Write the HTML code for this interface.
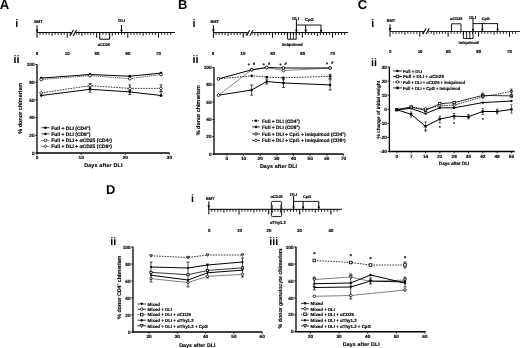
<!DOCTYPE html>
<html><head><meta charset="utf-8"><style>
html,body{margin:0;padding:0;background:#fff;}
svg{display:block;font-family:"Liberation Sans",sans-serif;text-rendering:geometricPrecision;filter:grayscale(1) blur(0.3px);}
</style></head><body>
<svg width="520" height="348" viewBox="0 0 520 348">
<rect width="520" height="348" fill="#fff"/>
<text x='-0.20' y='8.75' font-size='13.1' font-weight='bold' text-anchor='start' fill='#000' stroke='#000' stroke-width='0'>A</text>
<text x='178.00' y='8.80' font-size='13.0' font-weight='bold' text-anchor='start' fill='#000' stroke='#000' stroke-width='0'>B</text>
<text x='357.80' y='8.90' font-size='13.0' font-weight='bold' text-anchor='start' fill='#000' stroke='#000' stroke-width='0'>C</text>
<text x='105.90' y='194.20' font-size='12.9' font-weight='bold' text-anchor='start' fill='#000' stroke='#000' stroke-width='0'>D</text>
<text x='15.20' y='26.90' font-size='10.8' font-weight='bold' text-anchor='start' fill='#000' stroke='#000' stroke-width='0'>i</text>
<text x='13.60' y='62.60' font-size='10.8' font-weight='bold' text-anchor='start' fill='#000' stroke='#000' stroke-width='0'>ii</text>
<text x='192.60' y='27.10' font-size='10.8' font-weight='bold' text-anchor='start' fill='#000' stroke='#000' stroke-width='0'>i</text>
<text x='192.40' y='62.70' font-size='10.8' font-weight='bold' text-anchor='start' fill='#000' stroke='#000' stroke-width='0'>ii</text>
<text x='371.20' y='26.90' font-size='10.8' font-weight='bold' text-anchor='start' fill='#000' stroke='#000' stroke-width='0'>i</text>
<text x='370.90' y='66.10' font-size='10.8' font-weight='bold' text-anchor='start' fill='#000' stroke='#000' stroke-width='0'>ii</text>
<text x='190.90' y='201.70' font-size='10.8' font-weight='bold' text-anchor='start' fill='#000' stroke='#000' stroke-width='0'>i</text>
<text x='110.30' y='244.90' font-size='10.8' font-weight='bold' text-anchor='start' fill='#000' stroke='#000' stroke-width='0'>ii</text>
<text x='269.30' y='244.70' font-size='10.8' font-weight='bold' text-anchor='start' fill='#000' stroke='#000' stroke-width='0'>iii</text>
<line x1='37.00' y1='32.50' x2='175.00' y2='32.50' stroke='#000' stroke-width='1.0'/>
<line x1='40.02' y1='32.50' x2='40.02' y2='34.90' stroke='#000' stroke-width='0.85'/>
<line x1='43.04' y1='32.50' x2='43.04' y2='34.90' stroke='#000' stroke-width='0.85'/>
<line x1='46.06' y1='32.50' x2='46.06' y2='34.90' stroke='#000' stroke-width='0.85'/>
<line x1='49.08' y1='32.50' x2='49.08' y2='34.90' stroke='#000' stroke-width='0.85'/>
<line x1='52.10' y1='32.50' x2='52.10' y2='35.90' stroke='#000' stroke-width='0.9'/>
<line x1='55.12' y1='32.50' x2='55.12' y2='34.90' stroke='#000' stroke-width='0.85'/>
<line x1='58.14' y1='32.50' x2='58.14' y2='34.90' stroke='#000' stroke-width='0.85'/>
<line x1='61.16' y1='32.50' x2='61.16' y2='34.90' stroke='#000' stroke-width='0.85'/>
<line x1='64.18' y1='32.50' x2='64.18' y2='34.90' stroke='#000' stroke-width='0.85'/>
<line x1='67.20' y1='32.50' x2='67.20' y2='37.70' stroke='#000' stroke-width='1.0'/>
<line x1='70.15' y1='32.50' x2='70.15' y2='34.90' stroke='#000' stroke-width='0.85'/>
<line x1='73.10' y1='32.50' x2='73.10' y2='34.90' stroke='#000' stroke-width='0.85'/>
<line x1='76.05' y1='32.50' x2='76.05' y2='34.90' stroke='#000' stroke-width='0.85'/>
<line x1='79.00' y1='32.50' x2='79.00' y2='34.90' stroke='#000' stroke-width='0.85'/>
<line x1='81.95' y1='32.50' x2='81.95' y2='35.90' stroke='#000' stroke-width='0.9'/>
<line x1='84.90' y1='32.50' x2='84.90' y2='34.90' stroke='#000' stroke-width='0.85'/>
<line x1='87.85' y1='32.50' x2='87.85' y2='34.90' stroke='#000' stroke-width='0.85'/>
<line x1='90.80' y1='32.50' x2='90.80' y2='34.90' stroke='#000' stroke-width='0.85'/>
<line x1='93.75' y1='32.50' x2='93.75' y2='34.90' stroke='#000' stroke-width='0.85'/>
<line x1='96.70' y1='32.50' x2='96.70' y2='37.70' stroke='#000' stroke-width='1.0'/>
<line x1='99.81' y1='32.50' x2='99.81' y2='34.90' stroke='#000' stroke-width='0.85'/>
<line x1='102.92' y1='32.50' x2='102.92' y2='34.90' stroke='#000' stroke-width='0.85'/>
<line x1='106.03' y1='32.50' x2='106.03' y2='34.90' stroke='#000' stroke-width='0.85'/>
<line x1='109.14' y1='32.50' x2='109.14' y2='34.90' stroke='#000' stroke-width='0.85'/>
<line x1='112.25' y1='32.50' x2='112.25' y2='35.90' stroke='#000' stroke-width='0.9'/>
<line x1='115.36' y1='32.50' x2='115.36' y2='34.90' stroke='#000' stroke-width='0.85'/>
<line x1='118.47' y1='32.50' x2='118.47' y2='34.90' stroke='#000' stroke-width='0.85'/>
<line x1='121.58' y1='32.50' x2='121.58' y2='34.90' stroke='#000' stroke-width='0.85'/>
<line x1='124.69' y1='32.50' x2='124.69' y2='34.90' stroke='#000' stroke-width='0.85'/>
<line x1='127.80' y1='32.50' x2='127.80' y2='37.70' stroke='#000' stroke-width='1.0'/>
<line x1='130.87' y1='32.50' x2='130.87' y2='34.90' stroke='#000' stroke-width='0.85'/>
<line x1='133.94' y1='32.50' x2='133.94' y2='34.90' stroke='#000' stroke-width='0.85'/>
<line x1='137.01' y1='32.50' x2='137.01' y2='34.90' stroke='#000' stroke-width='0.85'/>
<line x1='140.08' y1='32.50' x2='140.08' y2='34.90' stroke='#000' stroke-width='0.85'/>
<line x1='143.15' y1='32.50' x2='143.15' y2='35.90' stroke='#000' stroke-width='0.9'/>
<line x1='146.22' y1='32.50' x2='146.22' y2='34.90' stroke='#000' stroke-width='0.85'/>
<line x1='149.29' y1='32.50' x2='149.29' y2='34.90' stroke='#000' stroke-width='0.85'/>
<line x1='152.36' y1='32.50' x2='152.36' y2='34.90' stroke='#000' stroke-width='0.85'/>
<line x1='155.43' y1='32.50' x2='155.43' y2='34.90' stroke='#000' stroke-width='0.85'/>
<line x1='158.50' y1='32.50' x2='158.50' y2='37.70' stroke='#000' stroke-width='1.0'/>
<line x1='161.57' y1='32.50' x2='161.57' y2='34.90' stroke='#000' stroke-width='0.85'/>
<line x1='164.64' y1='32.50' x2='164.64' y2='34.90' stroke='#000' stroke-width='0.85'/>
<line x1='167.71' y1='32.50' x2='167.71' y2='34.90' stroke='#000' stroke-width='0.85'/>
<line x1='170.78' y1='32.50' x2='170.78' y2='34.90' stroke='#000' stroke-width='0.85'/>
<text x='37.00' y='55.00' font-size='4.4' font-weight='bold' text-anchor='middle' fill='#000' stroke='#000' stroke-width='0.15'>0</text>
<text x='67.20' y='55.00' font-size='4.4' font-weight='bold' text-anchor='middle' fill='#000' stroke='#000' stroke-width='0.15'>10</text>
<text x='96.90' y='55.00' font-size='4.4' font-weight='bold' text-anchor='middle' fill='#000' stroke='#000' stroke-width='0.15'>50</text>
<text x='128.00' y='55.00' font-size='4.4' font-weight='bold' text-anchor='middle' fill='#000' stroke='#000' stroke-width='0.15'>60</text>
<text x='158.40' y='55.00' font-size='4.4' font-weight='bold' text-anchor='middle' fill='#000' stroke='#000' stroke-width='0.15'>70</text>
<rect x='71.3' y='31.7' width='4.4' height='4' fill='#fff'/>
<line x1='70.20' y1='35.70' x2='73.30' y2='30.10' stroke='#000' stroke-width='1.1'/>
<line x1='73.40' y1='35.70' x2='76.50' y2='30.10' stroke='#000' stroke-width='1.1'/>
<line x1='37.00' y1='25.30' x2='37.00' y2='37.80' stroke='#000' stroke-width='1.0'/>
<path d='M35.7,29.4 L38.3,29.4 L37,32.5 Z' fill='#000'/>
<text x='38.40' y='23.00' font-size='3.9' font-weight='bold' text-anchor='middle' fill='#000' stroke='#000' stroke-width='0.15'>BMT</text>
<line x1='121.50' y1='25.00' x2='121.50' y2='32.00' stroke='#000' stroke-width='1.0'/>
<path d='M120.2,29.7 L122.8,29.7 L121.5,32.5 Z' fill='#000'/>
<text x='121.80' y='22.40' font-size='4.3' font-weight='bold' text-anchor='middle' fill='#000' stroke='#000' stroke-width='0.15'>DLI</text>
<path d='M99.7,32.5 L99.7,39.2 L109.6,39.2 L109.6,32.5' stroke='#000' stroke-width='1.0' fill='none'/>
<text x='104.00' y='45.60' font-size='3.9' font-weight='bold' text-anchor='middle' fill='#000' stroke='#000' stroke-width='0.15'>&#945;CD25</text>
<line x1='213.00' y1='32.60' x2='348.20' y2='32.60' stroke='#000' stroke-width='1.0'/>
<line x1='216.02' y1='32.60' x2='216.02' y2='35.00' stroke='#000' stroke-width='0.85'/>
<line x1='219.04' y1='32.60' x2='219.04' y2='35.00' stroke='#000' stroke-width='0.85'/>
<line x1='222.06' y1='32.60' x2='222.06' y2='35.00' stroke='#000' stroke-width='0.85'/>
<line x1='225.08' y1='32.60' x2='225.08' y2='35.00' stroke='#000' stroke-width='0.85'/>
<line x1='228.10' y1='32.60' x2='228.10' y2='36.00' stroke='#000' stroke-width='0.9'/>
<line x1='231.12' y1='32.60' x2='231.12' y2='35.00' stroke='#000' stroke-width='0.85'/>
<line x1='234.14' y1='32.60' x2='234.14' y2='35.00' stroke='#000' stroke-width='0.85'/>
<line x1='237.16' y1='32.60' x2='237.16' y2='35.00' stroke='#000' stroke-width='0.85'/>
<line x1='240.18' y1='32.60' x2='240.18' y2='35.00' stroke='#000' stroke-width='0.85'/>
<line x1='243.20' y1='32.60' x2='243.20' y2='37.80' stroke='#000' stroke-width='1.0'/>
<line x1='246.13' y1='32.60' x2='246.13' y2='35.00' stroke='#000' stroke-width='0.85'/>
<line x1='249.06' y1='32.60' x2='249.06' y2='35.00' stroke='#000' stroke-width='0.85'/>
<line x1='251.99' y1='32.60' x2='251.99' y2='35.00' stroke='#000' stroke-width='0.85'/>
<line x1='254.92' y1='32.60' x2='254.92' y2='35.00' stroke='#000' stroke-width='0.85'/>
<line x1='257.85' y1='32.60' x2='257.85' y2='36.00' stroke='#000' stroke-width='0.9'/>
<line x1='260.78' y1='32.60' x2='260.78' y2='35.00' stroke='#000' stroke-width='0.85'/>
<line x1='263.71' y1='32.60' x2='263.71' y2='35.00' stroke='#000' stroke-width='0.85'/>
<line x1='266.64' y1='32.60' x2='266.64' y2='35.00' stroke='#000' stroke-width='0.85'/>
<line x1='269.57' y1='32.60' x2='269.57' y2='35.00' stroke='#000' stroke-width='0.85'/>
<line x1='272.50' y1='32.60' x2='272.50' y2='37.80' stroke='#000' stroke-width='1.0'/>
<line x1='275.48' y1='32.60' x2='275.48' y2='35.00' stroke='#000' stroke-width='0.85'/>
<line x1='278.46' y1='32.60' x2='278.46' y2='35.00' stroke='#000' stroke-width='0.85'/>
<line x1='281.44' y1='32.60' x2='281.44' y2='35.00' stroke='#000' stroke-width='0.85'/>
<line x1='284.42' y1='32.60' x2='284.42' y2='35.00' stroke='#000' stroke-width='0.85'/>
<line x1='287.40' y1='32.60' x2='287.40' y2='36.00' stroke='#000' stroke-width='0.9'/>
<line x1='290.38' y1='32.60' x2='290.38' y2='35.00' stroke='#000' stroke-width='0.85'/>
<line x1='293.36' y1='32.60' x2='293.36' y2='35.00' stroke='#000' stroke-width='0.85'/>
<line x1='296.34' y1='32.60' x2='296.34' y2='35.00' stroke='#000' stroke-width='0.85'/>
<line x1='299.32' y1='32.60' x2='299.32' y2='35.00' stroke='#000' stroke-width='0.85'/>
<line x1='302.30' y1='32.60' x2='302.30' y2='37.80' stroke='#000' stroke-width='1.0'/>
<line x1='305.32' y1='32.60' x2='305.32' y2='35.00' stroke='#000' stroke-width='0.85'/>
<line x1='308.34' y1='32.60' x2='308.34' y2='35.00' stroke='#000' stroke-width='0.85'/>
<line x1='311.36' y1='32.60' x2='311.36' y2='35.00' stroke='#000' stroke-width='0.85'/>
<line x1='314.38' y1='32.60' x2='314.38' y2='35.00' stroke='#000' stroke-width='0.85'/>
<line x1='317.40' y1='32.60' x2='317.40' y2='36.00' stroke='#000' stroke-width='0.9'/>
<line x1='320.42' y1='32.60' x2='320.42' y2='35.00' stroke='#000' stroke-width='0.85'/>
<line x1='323.44' y1='32.60' x2='323.44' y2='35.00' stroke='#000' stroke-width='0.85'/>
<line x1='326.46' y1='32.60' x2='326.46' y2='35.00' stroke='#000' stroke-width='0.85'/>
<line x1='329.48' y1='32.60' x2='329.48' y2='35.00' stroke='#000' stroke-width='0.85'/>
<line x1='332.50' y1='32.60' x2='332.50' y2='37.80' stroke='#000' stroke-width='1.0'/>
<line x1='335.52' y1='32.60' x2='335.52' y2='35.00' stroke='#000' stroke-width='0.85'/>
<line x1='338.54' y1='32.60' x2='338.54' y2='35.00' stroke='#000' stroke-width='0.85'/>
<line x1='341.56' y1='32.60' x2='341.56' y2='35.00' stroke='#000' stroke-width='0.85'/>
<line x1='344.58' y1='32.60' x2='344.58' y2='35.00' stroke='#000' stroke-width='0.85'/>
<text x='213.00' y='55.00' font-size='4.4' font-weight='bold' text-anchor='middle' fill='#000' stroke='#000' stroke-width='0.15'>0</text>
<text x='243.00' y='55.00' font-size='4.4' font-weight='bold' text-anchor='middle' fill='#000' stroke='#000' stroke-width='0.15'>10</text>
<text x='272.60' y='55.00' font-size='4.4' font-weight='bold' text-anchor='middle' fill='#000' stroke='#000' stroke-width='0.15'>50</text>
<text x='302.80' y='55.00' font-size='4.4' font-weight='bold' text-anchor='middle' fill='#000' stroke='#000' stroke-width='0.15'>60</text>
<text x='332.40' y='55.00' font-size='4.4' font-weight='bold' text-anchor='middle' fill='#000' stroke='#000' stroke-width='0.15'>70</text>
<rect x='247.70000000000002' y='31.8' width='4.4' height='4' fill='#fff'/>
<line x1='246.60' y1='35.80' x2='249.70' y2='30.20' stroke='#000' stroke-width='1.1'/>
<line x1='249.80' y1='35.80' x2='252.90' y2='30.20' stroke='#000' stroke-width='1.1'/>
<line x1='213.40' y1='25.30' x2='213.40' y2='37.80' stroke='#000' stroke-width='1.0'/>
<path d='M212.1,29.2 L214.7,29.2 L213.4,32.3 Z' fill='#000'/>
<text x='214.60' y='23.00' font-size='3.9' font-weight='bold' text-anchor='middle' fill='#000' stroke='#000' stroke-width='0.15'>BMT</text>
<path d='M287.6,32.6 L287.6,39.2 L296.2,39.2 L296.2,32.6' stroke='#000' stroke-width='0.9' fill='none'/>
<line x1='290.50' y1='32.60' x2='290.50' y2='39.20' stroke='#000' stroke-width='0.8'/>
<line x1='293.40' y1='32.60' x2='293.40' y2='39.20' stroke='#000' stroke-width='0.8'/>
<text x='292.30' y='46.20' font-size='4.1' font-weight='bold' text-anchor='middle' fill='#000' stroke='#000' stroke-width='0.15'>imiquimod</text>
<line x1='296.40' y1='20.00' x2='296.40' y2='32.10' stroke='#000' stroke-width='1.0'/>
<path d='M295.09999999999997,29.8 L297.7,29.8 L296.4,32.6 Z' fill='#000'/>
<text x='295.70' y='19.60' font-size='4.3' font-weight='bold' text-anchor='middle' fill='#000' stroke='#000' stroke-width='0.15'>DLI</text>
<line x1='296.40' y1='25.00' x2='321.20' y2='25.00' stroke='#000' stroke-width='0.9'/>
<line x1='305.70' y1='25.00' x2='305.70' y2='32.10' stroke='#000' stroke-width='1.0'/>
<path d='M304.4,29.8 L307.0,29.8 L305.7,32.6 Z' fill='#000'/>
<line x1='321.00' y1='25.00' x2='321.00' y2='32.10' stroke='#000' stroke-width='1.0'/>
<path d='M319.7,29.8 L322.3,29.8 L321.0,32.6 Z' fill='#000'/>
<text x='309.30' y='20.70' font-size='4.2' font-weight='bold' text-anchor='middle' fill='#000' stroke='#000' stroke-width='0.15'>CpG</text>
<line x1='390.00' y1='31.50' x2='521.00' y2='31.50' stroke='#000' stroke-width='0.85'/>
<line x1='392.98' y1='31.50' x2='392.98' y2='33.90' stroke='#000' stroke-width='0.85'/>
<line x1='395.96' y1='31.50' x2='395.96' y2='33.90' stroke='#000' stroke-width='0.85'/>
<line x1='398.94' y1='31.50' x2='398.94' y2='33.90' stroke='#000' stroke-width='0.85'/>
<line x1='401.92' y1='31.50' x2='401.92' y2='33.90' stroke='#000' stroke-width='0.85'/>
<line x1='404.90' y1='31.50' x2='404.90' y2='34.90' stroke='#000' stroke-width='0.9'/>
<line x1='407.88' y1='31.50' x2='407.88' y2='33.90' stroke='#000' stroke-width='0.85'/>
<line x1='410.86' y1='31.50' x2='410.86' y2='33.90' stroke='#000' stroke-width='0.85'/>
<line x1='413.84' y1='31.50' x2='413.84' y2='33.90' stroke='#000' stroke-width='0.85'/>
<line x1='416.82' y1='31.50' x2='416.82' y2='33.90' stroke='#000' stroke-width='0.85'/>
<line x1='419.80' y1='31.50' x2='419.80' y2='36.70' stroke='#000' stroke-width='1.0'/>
<line x1='422.63' y1='31.50' x2='422.63' y2='33.90' stroke='#000' stroke-width='0.85'/>
<line x1='425.46' y1='31.50' x2='425.46' y2='33.90' stroke='#000' stroke-width='0.85'/>
<line x1='428.29' y1='31.50' x2='428.29' y2='33.90' stroke='#000' stroke-width='0.85'/>
<line x1='431.12' y1='31.50' x2='431.12' y2='33.90' stroke='#000' stroke-width='0.85'/>
<line x1='433.95' y1='31.50' x2='433.95' y2='34.90' stroke='#000' stroke-width='0.9'/>
<line x1='436.78' y1='31.50' x2='436.78' y2='33.90' stroke='#000' stroke-width='0.85'/>
<line x1='439.61' y1='31.50' x2='439.61' y2='33.90' stroke='#000' stroke-width='0.85'/>
<line x1='442.44' y1='31.50' x2='442.44' y2='33.90' stroke='#000' stroke-width='0.85'/>
<line x1='445.27' y1='31.50' x2='445.27' y2='33.90' stroke='#000' stroke-width='0.85'/>
<line x1='448.10' y1='31.50' x2='448.10' y2='36.70' stroke='#000' stroke-width='1.0'/>
<line x1='451.15' y1='31.50' x2='451.15' y2='33.90' stroke='#000' stroke-width='0.85'/>
<line x1='454.20' y1='31.50' x2='454.20' y2='33.90' stroke='#000' stroke-width='0.85'/>
<line x1='457.25' y1='31.50' x2='457.25' y2='33.90' stroke='#000' stroke-width='0.85'/>
<line x1='460.30' y1='31.50' x2='460.30' y2='33.90' stroke='#000' stroke-width='0.85'/>
<line x1='463.35' y1='31.50' x2='463.35' y2='34.90' stroke='#000' stroke-width='0.9'/>
<line x1='466.40' y1='31.50' x2='466.40' y2='33.90' stroke='#000' stroke-width='0.85'/>
<line x1='469.45' y1='31.50' x2='469.45' y2='33.90' stroke='#000' stroke-width='0.85'/>
<line x1='472.50' y1='31.50' x2='472.50' y2='33.90' stroke='#000' stroke-width='0.85'/>
<line x1='475.55' y1='31.50' x2='475.55' y2='33.90' stroke='#000' stroke-width='0.85'/>
<line x1='478.60' y1='31.50' x2='478.60' y2='36.70' stroke='#000' stroke-width='1.0'/>
<line x1='481.69' y1='31.50' x2='481.69' y2='33.90' stroke='#000' stroke-width='0.85'/>
<line x1='484.78' y1='31.50' x2='484.78' y2='33.90' stroke='#000' stroke-width='0.85'/>
<line x1='487.87' y1='31.50' x2='487.87' y2='33.90' stroke='#000' stroke-width='0.85'/>
<line x1='490.96' y1='31.50' x2='490.96' y2='33.90' stroke='#000' stroke-width='0.85'/>
<line x1='494.05' y1='31.50' x2='494.05' y2='34.90' stroke='#000' stroke-width='0.9'/>
<line x1='497.14' y1='31.50' x2='497.14' y2='33.90' stroke='#000' stroke-width='0.85'/>
<line x1='500.23' y1='31.50' x2='500.23' y2='33.90' stroke='#000' stroke-width='0.85'/>
<line x1='503.32' y1='31.50' x2='503.32' y2='33.90' stroke='#000' stroke-width='0.85'/>
<line x1='506.41' y1='31.50' x2='506.41' y2='33.90' stroke='#000' stroke-width='0.85'/>
<line x1='509.50' y1='31.50' x2='509.50' y2='36.70' stroke='#000' stroke-width='1.0'/>
<line x1='512.59' y1='31.50' x2='512.59' y2='33.90' stroke='#000' stroke-width='0.85'/>
<line x1='515.68' y1='31.50' x2='515.68' y2='33.90' stroke='#000' stroke-width='0.85'/>
<text x='390.30' y='52.50' font-size='4.4' font-weight='bold' text-anchor='middle' fill='#000' stroke='#000' stroke-width='0.15'>0</text>
<text x='420.10' y='52.50' font-size='4.4' font-weight='bold' text-anchor='middle' fill='#000' stroke='#000' stroke-width='0.15'>10</text>
<text x='448.30' y='52.50' font-size='4.4' font-weight='bold' text-anchor='middle' fill='#000' stroke='#000' stroke-width='0.15'>50</text>
<text x='478.70' y='52.50' font-size='4.4' font-weight='bold' text-anchor='middle' fill='#000' stroke='#000' stroke-width='0.15'>60</text>
<text x='509.50' y='52.50' font-size='4.4' font-weight='bold' text-anchor='middle' fill='#000' stroke='#000' stroke-width='0.15'>70</text>
<rect x='424.0' y='30.7' width='4.4' height='4' fill='#fff'/>
<line x1='422.90' y1='34.00' x2='426.00' y2='28.40' stroke='#000' stroke-width='1.1'/>
<line x1='426.10' y1='34.00' x2='429.20' y2='28.40' stroke='#000' stroke-width='1.1'/>
<line x1='390.00' y1='24.30' x2='390.00' y2='36.60' stroke='#000' stroke-width='1.0'/>
<path d='M388.7,28.1 L391.3,28.1 L390,31.2 Z' fill='#000'/>
<text x='391.00' y='22.20' font-size='3.9' font-weight='bold' text-anchor='middle' fill='#000' stroke='#000' stroke-width='0.15'>BMT</text>
<path d='M451.5,31.5 L451.5,23.8 L461,23.8 L461,31.5' stroke='#000' stroke-width='0.9' fill='none'/>
<text x='456.20' y='20.20' font-size='3.9' font-weight='bold' text-anchor='middle' fill='#000' stroke='#000' stroke-width='0.15'>&#945;CD25</text>
<path d='M463.4,31.5 L463.4,38.5 L473,38.5 L473,31.5' stroke='#000' stroke-width='0.9' fill='none'/>
<line x1='466.60' y1='31.50' x2='466.60' y2='38.50' stroke='#000' stroke-width='0.8'/>
<line x1='469.80' y1='31.50' x2='469.80' y2='38.50' stroke='#000' stroke-width='0.8'/>
<text x='468.70' y='44.30' font-size='4.0' font-weight='bold' text-anchor='middle' fill='#000' stroke='#000' stroke-width='0.15'>Imiquimod</text>
<line x1='473.00' y1='18.50' x2='473.00' y2='31.00' stroke='#000' stroke-width='1.0'/>
<path d='M471.7,28.7 L474.3,28.7 L473,31.5 Z' fill='#000'/>
<text x='472.70' y='18.60' font-size='4.3' font-weight='bold' text-anchor='middle' fill='#000' stroke='#000' stroke-width='0.15'>DLI</text>
<line x1='473.00' y1='23.60' x2='497.80' y2='23.60' stroke='#000' stroke-width='0.9'/>
<line x1='482.30' y1='23.60' x2='482.30' y2='31.00' stroke='#000' stroke-width='1.0'/>
<path d='M481.0,28.7 L483.6,28.7 L482.3,31.5 Z' fill='#000'/>
<line x1='497.60' y1='23.60' x2='497.60' y2='31.00' stroke='#000' stroke-width='1.0'/>
<path d='M496.3,28.7 L498.90000000000003,28.7 L497.6,31.5 Z' fill='#000'/>
<text x='485.80' y='20.20' font-size='3.9' font-weight='bold' text-anchor='middle' fill='#000' stroke='#000' stroke-width='0.15'>CpG</text>
<line x1='208.80' y1='209.30' x2='342.00' y2='209.30' stroke='#000' stroke-width='1.0'/>
<line x1='211.82' y1='209.30' x2='211.82' y2='211.70' stroke='#000' stroke-width='0.85'/>
<line x1='214.84' y1='209.30' x2='214.84' y2='211.70' stroke='#000' stroke-width='0.85'/>
<line x1='217.86' y1='209.30' x2='217.86' y2='211.70' stroke='#000' stroke-width='0.85'/>
<line x1='220.88' y1='209.30' x2='220.88' y2='211.70' stroke='#000' stroke-width='0.85'/>
<line x1='223.90' y1='209.30' x2='223.90' y2='212.70' stroke='#000' stroke-width='0.9'/>
<line x1='226.92' y1='209.30' x2='226.92' y2='211.70' stroke='#000' stroke-width='0.85'/>
<line x1='229.94' y1='209.30' x2='229.94' y2='211.70' stroke='#000' stroke-width='0.85'/>
<line x1='232.96' y1='209.30' x2='232.96' y2='211.70' stroke='#000' stroke-width='0.85'/>
<line x1='235.98' y1='209.30' x2='235.98' y2='211.70' stroke='#000' stroke-width='0.85'/>
<line x1='239.00' y1='209.30' x2='239.00' y2='214.50' stroke='#000' stroke-width='1.0'/>
<line x1='241.97' y1='209.30' x2='241.97' y2='211.70' stroke='#000' stroke-width='0.85'/>
<line x1='244.94' y1='209.30' x2='244.94' y2='211.70' stroke='#000' stroke-width='0.85'/>
<line x1='247.91' y1='209.30' x2='247.91' y2='211.70' stroke='#000' stroke-width='0.85'/>
<line x1='250.88' y1='209.30' x2='250.88' y2='211.70' stroke='#000' stroke-width='0.85'/>
<line x1='253.85' y1='209.30' x2='253.85' y2='212.70' stroke='#000' stroke-width='0.9'/>
<line x1='256.82' y1='209.30' x2='256.82' y2='211.70' stroke='#000' stroke-width='0.85'/>
<line x1='259.79' y1='209.30' x2='259.79' y2='211.70' stroke='#000' stroke-width='0.85'/>
<line x1='262.76' y1='209.30' x2='262.76' y2='211.70' stroke='#000' stroke-width='0.85'/>
<line x1='265.73' y1='209.30' x2='265.73' y2='211.70' stroke='#000' stroke-width='0.85'/>
<line x1='268.70' y1='209.30' x2='268.70' y2='214.50' stroke='#000' stroke-width='1.0'/>
<line x1='271.80' y1='209.30' x2='271.80' y2='211.70' stroke='#000' stroke-width='0.85'/>
<line x1='274.90' y1='209.30' x2='274.90' y2='211.70' stroke='#000' stroke-width='0.85'/>
<line x1='278.00' y1='209.30' x2='278.00' y2='211.70' stroke='#000' stroke-width='0.85'/>
<line x1='281.10' y1='209.30' x2='281.10' y2='211.70' stroke='#000' stroke-width='0.85'/>
<line x1='284.20' y1='209.30' x2='284.20' y2='212.70' stroke='#000' stroke-width='0.9'/>
<line x1='287.30' y1='209.30' x2='287.30' y2='211.70' stroke='#000' stroke-width='0.85'/>
<line x1='290.40' y1='209.30' x2='290.40' y2='211.70' stroke='#000' stroke-width='0.85'/>
<line x1='293.50' y1='209.30' x2='293.50' y2='211.70' stroke='#000' stroke-width='0.85'/>
<line x1='296.60' y1='209.30' x2='296.60' y2='211.70' stroke='#000' stroke-width='0.85'/>
<line x1='299.70' y1='209.30' x2='299.70' y2='214.50' stroke='#000' stroke-width='1.0'/>
<line x1='302.82' y1='209.30' x2='302.82' y2='211.70' stroke='#000' stroke-width='0.85'/>
<line x1='305.94' y1='209.30' x2='305.94' y2='211.70' stroke='#000' stroke-width='0.85'/>
<line x1='309.06' y1='209.30' x2='309.06' y2='211.70' stroke='#000' stroke-width='0.85'/>
<line x1='312.18' y1='209.30' x2='312.18' y2='211.70' stroke='#000' stroke-width='0.85'/>
<line x1='315.30' y1='209.30' x2='315.30' y2='212.70' stroke='#000' stroke-width='0.9'/>
<line x1='318.42' y1='209.30' x2='318.42' y2='211.70' stroke='#000' stroke-width='0.85'/>
<line x1='321.54' y1='209.30' x2='321.54' y2='211.70' stroke='#000' stroke-width='0.85'/>
<line x1='324.66' y1='209.30' x2='324.66' y2='211.70' stroke='#000' stroke-width='0.85'/>
<line x1='327.78' y1='209.30' x2='327.78' y2='211.70' stroke='#000' stroke-width='0.85'/>
<line x1='330.90' y1='209.30' x2='330.90' y2='214.50' stroke='#000' stroke-width='1.0'/>
<line x1='334.02' y1='209.30' x2='334.02' y2='211.70' stroke='#000' stroke-width='0.85'/>
<line x1='337.14' y1='209.30' x2='337.14' y2='211.70' stroke='#000' stroke-width='0.85'/>
<text x='209.20' y='231.80' font-size='4.4' font-weight='bold' text-anchor='middle' fill='#000' stroke='#000' stroke-width='0.15'>0</text>
<text x='239.50' y='231.80' font-size='4.4' font-weight='bold' text-anchor='middle' fill='#000' stroke='#000' stroke-width='0.15'>10</text>
<text x='269.00' y='231.80' font-size='4.4' font-weight='bold' text-anchor='middle' fill='#000' stroke='#000' stroke-width='0.15'>20</text>
<text x='299.50' y='231.80' font-size='4.4' font-weight='bold' text-anchor='middle' fill='#000' stroke='#000' stroke-width='0.15'>30</text>
<text x='330.90' y='231.80' font-size='4.4' font-weight='bold' text-anchor='middle' fill='#000' stroke='#000' stroke-width='0.15'>40</text>
<line x1='208.80' y1='201.40' x2='208.80' y2='214.40' stroke='#000' stroke-width='1.0'/>
<path d='M207.5,205.4 L210.1,205.4 L208.8,208.4 Z' fill='#000'/>
<text x='210.10' y='199.70' font-size='3.9' font-weight='bold' text-anchor='middle' fill='#000' stroke='#000' stroke-width='0.15'>BMT</text>
<rect x='271.4' y='201.4' width='10.2' height='15.2' rx='1' fill='none' stroke='#000' stroke-width='0.9'/>
<line x1='272.60' y1='205.00' x2='272.60' y2='213.00' stroke='#000' stroke-width='0.6'/>
<line x1='280.40' y1='205.00' x2='280.40' y2='213.00' stroke='#000' stroke-width='0.6'/>
<text x='276.60' y='197.60' font-size='3.9' font-weight='bold' text-anchor='middle' fill='#000' stroke='#000' stroke-width='0.15'>&#945;CD25</text>
<text x='277.90' y='223.70' font-size='4.15' font-weight='bold' text-anchor='middle' fill='#000' stroke='#000' stroke-width='0.15'>&#945;Thy1.2</text>
<line x1='293.60' y1='196.20' x2='293.60' y2='208.80' stroke='#000' stroke-width='1.0'/>
<path d='M292.3,206.5 L294.90000000000003,206.5 L293.6,209.3 Z' fill='#000'/>
<text x='293.50' y='195.80' font-size='4.3' font-weight='bold' text-anchor='middle' fill='#000' stroke='#000' stroke-width='0.15'>DLI</text>
<line x1='293.60' y1='201.40' x2='318.90' y2='201.40' stroke='#000' stroke-width='0.9'/>
<line x1='303.10' y1='201.40' x2='303.10' y2='208.80' stroke='#000' stroke-width='1.0'/>
<path d='M301.8,206.5 L304.40000000000003,206.5 L303.1,209.3 Z' fill='#000'/>
<line x1='318.80' y1='201.40' x2='318.80' y2='208.80' stroke='#000' stroke-width='1.0'/>
<path d='M317.5,206.5 L320.1,206.5 L318.8,209.3 Z' fill='#000'/>
<text x='307.00' y='197.60' font-size='3.9' font-weight='bold' text-anchor='middle' fill='#000' stroke='#000' stroke-width='0.15'>CpG</text>
<line x1='37.00' y1='64.40' x2='37.00' y2='153.60' stroke='#000' stroke-width='1.3'/>
<line x1='36.40' y1='153.00' x2='169.50' y2='153.00' stroke='#000' stroke-width='1.3'/>
<line x1='35.20' y1='153.00' x2='37.00' y2='153.00' stroke='#000' stroke-width='0.8'/>
<text x='34.50' y='154.65' font-size='4.7' font-weight='bold' text-anchor='end' fill='#000' stroke='#000' stroke-width='0.15'>0</text>
<line x1='35.20' y1='135.30' x2='37.00' y2='135.30' stroke='#000' stroke-width='0.8'/>
<text x='34.50' y='136.95' font-size='4.7' font-weight='bold' text-anchor='end' fill='#000' stroke='#000' stroke-width='0.15'>20</text>
<line x1='35.20' y1='117.60' x2='37.00' y2='117.60' stroke='#000' stroke-width='0.8'/>
<text x='34.50' y='119.25' font-size='4.7' font-weight='bold' text-anchor='end' fill='#000' stroke='#000' stroke-width='0.15'>40</text>
<line x1='35.20' y1='99.90' x2='37.00' y2='99.90' stroke='#000' stroke-width='0.8'/>
<text x='34.50' y='101.55' font-size='4.7' font-weight='bold' text-anchor='end' fill='#000' stroke='#000' stroke-width='0.15'>60</text>
<line x1='35.20' y1='82.20' x2='37.00' y2='82.20' stroke='#000' stroke-width='0.8'/>
<text x='34.50' y='83.85' font-size='4.7' font-weight='bold' text-anchor='end' fill='#000' stroke='#000' stroke-width='0.15'>80</text>
<line x1='35.20' y1='64.50' x2='37.00' y2='64.50' stroke='#000' stroke-width='0.8'/>
<text x='34.50' y='66.15' font-size='4.7' font-weight='bold' text-anchor='end' fill='#000' stroke='#000' stroke-width='0.15'>100</text>
<line x1='37.00' y1='153.00' x2='37.00' y2='154.80' stroke='#000' stroke-width='0.8'/>
<text x='37.00' y='159.30' font-size='4.7' font-weight='bold' text-anchor='middle' fill='#000' stroke='#000' stroke-width='0.15'>0</text>
<line x1='81.15' y1='153.00' x2='81.15' y2='154.80' stroke='#000' stroke-width='0.8'/>
<text x='81.15' y='159.30' font-size='4.7' font-weight='bold' text-anchor='middle' fill='#000' stroke='#000' stroke-width='0.15'>10</text>
<line x1='125.30' y1='153.00' x2='125.30' y2='154.80' stroke='#000' stroke-width='0.8'/>
<text x='125.30' y='159.30' font-size='4.7' font-weight='bold' text-anchor='middle' fill='#000' stroke='#000' stroke-width='0.15'>20</text>
<line x1='169.45' y1='153.00' x2='169.45' y2='154.80' stroke='#000' stroke-width='0.8'/>
<text x='169.45' y='159.30' font-size='4.7' font-weight='bold' text-anchor='middle' fill='#000' stroke='#000' stroke-width='0.15'>30</text>
<text x='22.40' y='108.20' font-size='5.4' font-weight='bold' text-anchor='middle' fill='#000' stroke='#000' stroke-width='0.14' transform='rotate(-90 22.4 108.2)' textLength='50.9'>% donor chimerism</text>
<text x='103.30' y='166.70' font-size='5.3' font-weight='bold' text-anchor='middle' fill='#000' stroke='#000' stroke-width='0.14' textLength='38.3'>Days after DLI</text>
<path d='M41.20,78.10 L90.00,74.50 L129.80,76.20 L161.00,73.10' stroke='#000' stroke-width='1.0' fill='none'/>
<path d='M41.20,79.50 L90.00,75.60 L129.80,78.70 L161.00,74.50' stroke='#000' stroke-width='0.8' fill='none' stroke-dasharray='1.0,0.9'/>
<path d='M41.20,92.90 L90.00,85.70 L129.80,88.40 L161.00,88.40' stroke='#000' stroke-width='0.8' fill='none' stroke-dasharray='1.6,1.1'/>
<path d='M41.20,95.50 L90.00,89.30 L129.80,91.90 L161.00,95.50' stroke='#000' stroke-width='1.0' fill='none'/>
<line x1='90.00' y1='83.40' x2='90.00' y2='88.00' stroke='#000' stroke-width='0.7'/>
<line x1='88.50' y1='83.40' x2='91.50' y2='83.40' stroke='#000' stroke-width='0.7'/>
<line x1='88.50' y1='88.00' x2='91.50' y2='88.00' stroke='#000' stroke-width='0.7'/>
<line x1='90.00' y1='86.40' x2='90.00' y2='92.20' stroke='#000' stroke-width='0.7'/>
<line x1='88.50' y1='86.40' x2='91.50' y2='86.40' stroke='#000' stroke-width='0.7'/>
<line x1='88.50' y1='92.20' x2='91.50' y2='92.20' stroke='#000' stroke-width='0.7'/>
<line x1='129.80' y1='84.80' x2='129.80' y2='90.50' stroke='#000' stroke-width='0.7'/>
<line x1='128.30' y1='84.80' x2='131.30' y2='84.80' stroke='#000' stroke-width='0.7'/>
<line x1='128.30' y1='90.50' x2='131.30' y2='90.50' stroke='#000' stroke-width='0.7'/>
<line x1='129.80' y1='88.60' x2='129.80' y2='94.50' stroke='#000' stroke-width='0.7'/>
<line x1='128.30' y1='88.60' x2='131.30' y2='88.60' stroke='#000' stroke-width='0.7'/>
<line x1='128.30' y1='94.50' x2='131.30' y2='94.50' stroke='#000' stroke-width='0.7'/>
<line x1='161.00' y1='84.80' x2='161.00' y2='91.40' stroke='#000' stroke-width='0.7'/>
<line x1='159.50' y1='84.80' x2='162.50' y2='84.80' stroke='#000' stroke-width='0.7'/>
<line x1='159.50' y1='91.40' x2='162.50' y2='91.40' stroke='#000' stroke-width='0.7'/>
<line x1='161.00' y1='91.60' x2='161.00' y2='96.00' stroke='#000' stroke-width='0.7'/>
<line x1='159.50' y1='91.60' x2='162.50' y2='91.60' stroke='#000' stroke-width='0.7'/>
<line x1='159.50' y1='96.00' x2='162.50' y2='96.00' stroke='#000' stroke-width='0.7'/>
<circle cx='41.20' cy='78.10' r='1.4' fill='#000'/>
<circle cx='90.00' cy='74.50' r='1.4' fill='#000'/>
<circle cx='129.80' cy='76.20' r='1.4' fill='#000'/>
<circle cx='161.00' cy='73.10' r='1.4' fill='#000'/>
<circle cx='41.20' cy='79.50' r='1.4' fill='#fff' stroke='#000' stroke-width='0.8'/>
<circle cx='90.00' cy='75.60' r='1.4' fill='#fff' stroke='#000' stroke-width='0.8'/>
<circle cx='129.80' cy='78.70' r='1.4' fill='#fff' stroke='#000' stroke-width='0.8'/>
<circle cx='161.00' cy='74.50' r='1.4' fill='#fff' stroke='#000' stroke-width='0.8'/>
<path d='M41.2,91.22 L42.74,92.9 L41.2,94.58000000000001 L39.660000000000004,92.9 Z' fill='#fff' stroke='#000' stroke-width='0.8'/>
<path d='M90,84.02 L91.54,85.7 L90,87.38000000000001 L88.46,85.7 Z' fill='#fff' stroke='#000' stroke-width='0.8'/>
<path d='M129.8,86.72 L131.34,88.4 L129.8,90.08000000000001 L128.26000000000002,88.4 Z' fill='#fff' stroke='#000' stroke-width='0.8'/>
<path d='M161,86.72 L162.54,88.4 L161,90.08000000000001 L159.46,88.4 Z' fill='#fff' stroke='#000' stroke-width='0.8'/>
<path d='M41.2,93.82 L42.74,95.5 L41.2,97.18 L39.660000000000004,95.5 Z' fill='#000'/>
<path d='M90,87.61999999999999 L91.54,89.3 L90,90.98 L88.46,89.3 Z' fill='#000'/>
<path d='M129.8,90.22 L131.34,91.9 L129.8,93.58000000000001 L128.26000000000002,91.9 Z' fill='#000'/>
<path d='M161,93.82 L162.54,95.5 L161,97.18 L159.46,95.5 Z' fill='#000'/>
<line x1='41.40' y1='127.70' x2='49.50' y2='127.70' stroke='#000' stroke-width='0.8'/>
<circle cx='45.45' cy='127.70' r='1.3' fill='#000'/>
<text x='51.20' y='129.50' font-size='5.0' font-weight='bold' text-anchor='start' fill='#000' stroke='#000' stroke-width='0.15'>Full + DLI (CD4<tspan font-size='3' dy='-1.6'>+</tspan><tspan dy='1.6'>)</tspan></text>
<line x1='41.40' y1='133.90' x2='49.50' y2='133.90' stroke='#000' stroke-width='0.8'/>
<path d='M45.45,132.34 L46.88,133.9 L45.45,135.46 L44.02,133.9 Z' fill='#000'/>
<text x='51.20' y='135.70' font-size='5.0' font-weight='bold' text-anchor='start' fill='#000' stroke='#000' stroke-width='0.15'>Full + DLI (CD8<tspan font-size='3' dy='-1.6'>+</tspan><tspan dy='1.6'>)</tspan></text>
<line x1='41.40' y1='140.40' x2='49.50' y2='140.40' stroke='#000' stroke-width='0.8' stroke-dasharray='1.2,0.8'/>
<circle cx='45.45' cy='140.40' r='1.3' fill='#fff' stroke='#000' stroke-width='0.8'/>
<text x='51.20' y='142.20' font-size='5.0' font-weight='bold' text-anchor='start' fill='#000' stroke='#000' stroke-width='0.15'>Full + DLI + &#945;CD25 (CD4<tspan font-size='3' dy='-1.6'>+</tspan><tspan dy='1.6'>)</tspan></text>
<line x1='41.40' y1='146.30' x2='49.50' y2='146.30' stroke='#000' stroke-width='0.8' stroke-dasharray='1.2,0.8'/>
<path d='M45.45,144.74 L46.88,146.3 L45.45,147.86 L44.02,146.3 Z' fill='#fff' stroke='#000' stroke-width='0.8'/>
<text x='51.20' y='148.10' font-size='5.0' font-weight='bold' text-anchor='start' fill='#000' stroke='#000' stroke-width='0.15'>Full + DLI + &#945;CD25 (CD8<tspan font-size='3' dy='-1.6'>+</tspan><tspan dy='1.6'>)</tspan></text>
<line x1='214.00' y1='67.30' x2='214.00' y2='154.60' stroke='#000' stroke-width='1.3'/>
<line x1='213.40' y1='154.00' x2='343.50' y2='154.00' stroke='#000' stroke-width='1.3'/>
<line x1='212.20' y1='154.00' x2='214.00' y2='154.00' stroke='#000' stroke-width='0.8'/>
<text x='211.50' y='155.65' font-size='4.7' font-weight='bold' text-anchor='end' fill='#000' stroke='#000' stroke-width='0.15'>0</text>
<line x1='212.20' y1='136.70' x2='214.00' y2='136.70' stroke='#000' stroke-width='0.8'/>
<text x='211.50' y='138.35' font-size='4.7' font-weight='bold' text-anchor='end' fill='#000' stroke='#000' stroke-width='0.15'>20</text>
<line x1='212.20' y1='119.40' x2='214.00' y2='119.40' stroke='#000' stroke-width='0.8'/>
<text x='211.50' y='121.05' font-size='4.7' font-weight='bold' text-anchor='end' fill='#000' stroke='#000' stroke-width='0.15'>40</text>
<line x1='212.20' y1='102.10' x2='214.00' y2='102.10' stroke='#000' stroke-width='0.8'/>
<text x='211.50' y='103.75' font-size='4.7' font-weight='bold' text-anchor='end' fill='#000' stroke='#000' stroke-width='0.15'>60</text>
<line x1='212.20' y1='84.80' x2='214.00' y2='84.80' stroke='#000' stroke-width='0.8'/>
<text x='211.50' y='86.45' font-size='4.7' font-weight='bold' text-anchor='end' fill='#000' stroke='#000' stroke-width='0.15'>80</text>
<line x1='212.20' y1='67.50' x2='214.00' y2='67.50' stroke='#000' stroke-width='0.8'/>
<text x='211.50' y='69.15' font-size='4.7' font-weight='bold' text-anchor='end' fill='#000' stroke='#000' stroke-width='0.15'>100</text>
<line x1='226.90' y1='154.00' x2='226.90' y2='155.80' stroke='#000' stroke-width='0.8'/>
<text x='226.90' y='160.20' font-size='4.7' font-weight='bold' text-anchor='middle' fill='#000' stroke='#000' stroke-width='0.15'>0</text>
<line x1='243.56' y1='154.00' x2='243.56' y2='155.80' stroke='#000' stroke-width='0.8'/>
<text x='243.56' y='160.20' font-size='4.7' font-weight='bold' text-anchor='middle' fill='#000' stroke='#000' stroke-width='0.15'>10</text>
<line x1='260.22' y1='154.00' x2='260.22' y2='155.80' stroke='#000' stroke-width='0.8'/>
<text x='260.22' y='160.20' font-size='4.7' font-weight='bold' text-anchor='middle' fill='#000' stroke='#000' stroke-width='0.15'>20</text>
<line x1='276.88' y1='154.00' x2='276.88' y2='155.80' stroke='#000' stroke-width='0.8'/>
<text x='276.88' y='160.20' font-size='4.7' font-weight='bold' text-anchor='middle' fill='#000' stroke='#000' stroke-width='0.15'>30</text>
<line x1='293.54' y1='154.00' x2='293.54' y2='155.80' stroke='#000' stroke-width='0.8'/>
<text x='293.54' y='160.20' font-size='4.7' font-weight='bold' text-anchor='middle' fill='#000' stroke='#000' stroke-width='0.15'>40</text>
<line x1='310.20' y1='154.00' x2='310.20' y2='155.80' stroke='#000' stroke-width='0.8'/>
<text x='310.20' y='160.20' font-size='4.7' font-weight='bold' text-anchor='middle' fill='#000' stroke='#000' stroke-width='0.15'>50</text>
<line x1='326.86' y1='154.00' x2='326.86' y2='155.80' stroke='#000' stroke-width='0.8'/>
<text x='326.86' y='160.20' font-size='4.7' font-weight='bold' text-anchor='middle' fill='#000' stroke='#000' stroke-width='0.15'>60</text>
<line x1='343.52' y1='154.00' x2='343.52' y2='155.80' stroke='#000' stroke-width='0.8'/>
<text x='343.52' y='160.20' font-size='4.7' font-weight='bold' text-anchor='middle' fill='#000' stroke='#000' stroke-width='0.15'>70</text>
<text x='200.30' y='110.20' font-size='5.4' font-weight='bold' text-anchor='middle' fill='#000' stroke='#000' stroke-width='0.14' transform='rotate(-90 200.3 110.2)' textLength='49.9'>% donor chimerism</text>
<text x='278.50' y='167.80' font-size='5.3' font-weight='bold' text-anchor='middle' fill='#000' stroke='#000' stroke-width='0.14' textLength='37.2'>Days after DLI</text>
<path d='M218.50,78.90 L251.70,75.80 L266.80,77.10 L283.40,77.80 L330.10,76.30' stroke='#000' stroke-width='0.8' fill='none' stroke-dasharray='1.6,1.1'/>
<path d='M218.50,95.20 L251.70,90.00 L266.80,81.50 L283.40,83.00 L330.10,84.90' stroke='#000' stroke-width='1.0' fill='none'/>
<path d='M218.50,95.20 L251.70,69.80 L266.80,67.50 L283.40,70.60 L330.10,68.00' stroke='#000' stroke-width='0.45' fill='none'/>
<path d='M218.50,78.90 L251.70,69.80 L266.80,67.50 L283.40,68.00 L330.10,68.00' stroke='#000' stroke-width='1.0' fill='none'/>
<line x1='251.70' y1='84.90' x2='251.70' y2='95.20' stroke='#000' stroke-width='0.7'/>
<line x1='250.20' y1='84.90' x2='253.20' y2='84.90' stroke='#000' stroke-width='0.7'/>
<line x1='250.20' y1='95.20' x2='253.20' y2='95.20' stroke='#000' stroke-width='0.7'/>
<line x1='283.40' y1='79.70' x2='283.40' y2='87.50' stroke='#000' stroke-width='0.7'/>
<line x1='281.90' y1='79.70' x2='284.90' y2='79.70' stroke='#000' stroke-width='0.7'/>
<line x1='281.90' y1='87.50' x2='284.90' y2='87.50' stroke='#000' stroke-width='0.7'/>
<line x1='330.10' y1='79.70' x2='330.10' y2='90.00' stroke='#000' stroke-width='0.7'/>
<line x1='328.60' y1='79.70' x2='331.60' y2='79.70' stroke='#000' stroke-width='0.7'/>
<line x1='328.60' y1='90.00' x2='331.60' y2='90.00' stroke='#000' stroke-width='0.7'/>
<line x1='266.80' y1='79.00' x2='266.80' y2='84.00' stroke='#000' stroke-width='0.7'/>
<line x1='265.30' y1='79.00' x2='268.30' y2='79.00' stroke='#000' stroke-width='0.7'/>
<line x1='265.30' y1='84.00' x2='268.30' y2='84.00' stroke='#000' stroke-width='0.7'/>
<circle cx='218.50' cy='78.90' r='1.4' fill='#000'/>
<circle cx='251.70' cy='75.80' r='1.4' fill='#000'/>
<circle cx='266.80' cy='77.10' r='1.4' fill='#000'/>
<circle cx='283.40' cy='77.80' r='1.4' fill='#000'/>
<circle cx='330.10' cy='76.30' r='1.4' fill='#000'/>
<path d='M218.5,93.52 L220.04,95.2 L218.5,96.88000000000001 L216.96,95.2 Z' fill='#000'/>
<path d='M251.7,88.32 L253.23999999999998,90.0 L251.7,91.68 L250.16,90.0 Z' fill='#000'/>
<path d='M266.8,79.82 L268.34000000000003,81.5 L266.8,83.18 L265.26,81.5 Z' fill='#000'/>
<path d='M283.4,81.32 L284.94,83.0 L283.4,84.68 L281.85999999999996,83.0 Z' fill='#000'/>
<path d='M330.1,83.22 L331.64000000000004,84.9 L330.1,86.58000000000001 L328.56,84.9 Z' fill='#000'/>
<path d='M218.5,93.52 L220.04,95.2 L218.5,96.88000000000001 L216.96,95.2 Z' fill='#fff' stroke='#000' stroke-width='0.8'/>
<path d='M251.7,68.11999999999999 L253.23999999999998,69.8 L251.7,71.48 L250.16,69.8 Z' fill='#fff' stroke='#000' stroke-width='0.8'/>
<path d='M266.8,65.82 L268.34000000000003,67.5 L266.8,69.18 L265.26,67.5 Z' fill='#fff' stroke='#000' stroke-width='0.8'/>
<path d='M283.4,68.91999999999999 L284.94,70.6 L283.4,72.28 L281.85999999999996,70.6 Z' fill='#fff' stroke='#000' stroke-width='0.8'/>
<path d='M330.1,66.32 L331.64000000000004,68.0 L330.1,69.68 L328.56,68.0 Z' fill='#fff' stroke='#000' stroke-width='0.8'/>
<circle cx='218.50' cy='78.90' r='1.4' fill='#fff' stroke='#000' stroke-width='0.8'/>
<circle cx='251.70' cy='69.80' r='1.4' fill='#fff' stroke='#000' stroke-width='0.8'/>
<circle cx='266.80' cy='67.50' r='1.4' fill='#fff' stroke='#000' stroke-width='0.8'/>
<circle cx='283.40' cy='68.00' r='1.4' fill='#fff' stroke='#000' stroke-width='0.8'/>
<circle cx='330.10' cy='68.00' r='1.4' fill='#fff' stroke='#000' stroke-width='0.8'/>
<text x='248.70' y='67.00' font-size='5.2' font-weight='bold' text-anchor='middle' fill='#000' stroke='#000' stroke-width='0.15'>*</text>
<text x='254.00' y='65.00' font-size='3.9' font-weight='bold' text-anchor='middle' fill='#000' stroke='#000' stroke-width='0.15'>#</text>
<text x='263.80' y='67.00' font-size='5.2' font-weight='bold' text-anchor='middle' fill='#000' stroke='#000' stroke-width='0.15'>*</text>
<text x='269.10' y='65.00' font-size='3.9' font-weight='bold' text-anchor='middle' fill='#000' stroke='#000' stroke-width='0.15'>#</text>
<text x='280.40' y='67.00' font-size='5.2' font-weight='bold' text-anchor='middle' fill='#000' stroke='#000' stroke-width='0.15'>*</text>
<text x='285.70' y='65.00' font-size='3.9' font-weight='bold' text-anchor='middle' fill='#000' stroke='#000' stroke-width='0.15'>#</text>
<text x='327.10' y='65.80' font-size='5.2' font-weight='bold' text-anchor='middle' fill='#000' stroke='#000' stroke-width='0.15'>*</text>
<text x='332.40' y='63.80' font-size='3.9' font-weight='bold' text-anchor='middle' fill='#000' stroke='#000' stroke-width='0.15'>#</text>
<line x1='330.10' y1='74.30' x2='330.10' y2='78.50' stroke='#000' stroke-width='0.7'/>
<line x1='328.60' y1='74.30' x2='331.60' y2='74.30' stroke='#000' stroke-width='0.7'/>
<line x1='328.60' y1='78.50' x2='331.60' y2='78.50' stroke='#000' stroke-width='0.7'/>
<line x1='252.00' y1='120.70' x2='260.00' y2='120.70' stroke='#000' stroke-width='0.8' stroke-dasharray='1.2,0.8'/>
<circle cx='256.00' cy='120.70' r='1.3' fill='#000'/>
<text x='261.90' y='122.50' font-size='4.85' font-weight='bold' text-anchor='start' fill='#000' stroke='#000' stroke-width='0.15'>Full + DLI (CD4<tspan font-size='3' dy='-1.6'>+</tspan><tspan dy='1.6'>)</tspan></text>
<line x1='252.00' y1='126.90' x2='260.00' y2='126.90' stroke='#000' stroke-width='0.8'/>
<path d='M256.0,125.34 L257.43,126.9 L256.0,128.46 L254.57,126.9 Z' fill='#000'/>
<text x='261.90' y='128.70' font-size='4.85' font-weight='bold' text-anchor='start' fill='#000' stroke='#000' stroke-width='0.15'>Full + DLI (CD8<tspan font-size='3' dy='-1.6'>+</tspan><tspan dy='1.6'>)</tspan></text>
<line x1='252.00' y1='133.90' x2='260.00' y2='133.90' stroke='#000' stroke-width='0.8'/>
<circle cx='256.00' cy='133.90' r='1.3' fill='#fff' stroke='#000' stroke-width='0.8'/>
<text x='261.90' y='135.70' font-size='4.85' font-weight='bold' text-anchor='start' fill='#000' stroke='#000' stroke-width='0.15'>Full + DLI + CpG + imiquimod (CD4<tspan font-size='3' dy='-1.6'>+</tspan><tspan dy='1.6'>)</tspan></text>
<line x1='252.00' y1='140.40' x2='260.00' y2='140.40' stroke='#000' stroke-width='0.8'/>
<path d='M256.0,138.84 L257.43,140.4 L256.0,141.96 L254.57,140.4 Z' fill='#fff' stroke='#000' stroke-width='0.8'/>
<text x='261.90' y='142.20' font-size='4.85' font-weight='bold' text-anchor='start' fill='#000' stroke='#000' stroke-width='0.15'>Full + DLI + CpG + imiquimod (CD8<tspan font-size='3' dy='-1.6'>+</tspan><tspan dy='1.6'>)</tspan></text>
<line x1='389.40' y1='66.80' x2='389.40' y2='152.10' stroke='#000' stroke-width='1.3'/>
<line x1='388.80' y1='151.50' x2='514.60' y2='151.50' stroke='#000' stroke-width='1.3'/>
<line x1='387.60' y1='151.60' x2='389.40' y2='151.60' stroke='#000' stroke-width='0.8'/>
<text x='386.90' y='153.25' font-size='4.7' font-weight='bold' text-anchor='end' fill='#000' stroke='#000' stroke-width='0.15'>-30</text>
<line x1='387.60' y1='137.50' x2='389.40' y2='137.50' stroke='#000' stroke-width='0.8'/>
<text x='386.90' y='139.15' font-size='4.7' font-weight='bold' text-anchor='end' fill='#000' stroke='#000' stroke-width='0.15'>-20</text>
<line x1='387.60' y1='123.40' x2='389.40' y2='123.40' stroke='#000' stroke-width='0.8'/>
<text x='386.90' y='125.05' font-size='4.7' font-weight='bold' text-anchor='end' fill='#000' stroke='#000' stroke-width='0.15'>-10</text>
<line x1='387.60' y1='109.30' x2='389.40' y2='109.30' stroke='#000' stroke-width='0.8'/>
<text x='386.90' y='110.95' font-size='4.7' font-weight='bold' text-anchor='end' fill='#000' stroke='#000' stroke-width='0.15'>0</text>
<line x1='387.60' y1='95.20' x2='389.40' y2='95.20' stroke='#000' stroke-width='0.8'/>
<text x='386.90' y='96.85' font-size='4.7' font-weight='bold' text-anchor='end' fill='#000' stroke='#000' stroke-width='0.15'>10</text>
<line x1='387.60' y1='81.10' x2='389.40' y2='81.10' stroke='#000' stroke-width='0.8'/>
<text x='386.90' y='82.75' font-size='4.7' font-weight='bold' text-anchor='end' fill='#000' stroke='#000' stroke-width='0.15'>20</text>
<line x1='387.60' y1='67.00' x2='389.40' y2='67.00' stroke='#000' stroke-width='0.8'/>
<text x='386.90' y='68.65' font-size='4.7' font-weight='bold' text-anchor='end' fill='#000' stroke='#000' stroke-width='0.15'>30</text>
<line x1='396.90' y1='151.50' x2='396.90' y2='153.30' stroke='#000' stroke-width='0.8'/>
<text x='396.90' y='157.60' font-size='4.7' font-weight='bold' text-anchor='middle' fill='#000' stroke='#000' stroke-width='0.15'>0</text>
<line x1='411.21' y1='151.50' x2='411.21' y2='153.30' stroke='#000' stroke-width='0.8'/>
<text x='411.21' y='157.60' font-size='4.7' font-weight='bold' text-anchor='middle' fill='#000' stroke='#000' stroke-width='0.15'>7</text>
<line x1='425.53' y1='151.50' x2='425.53' y2='153.30' stroke='#000' stroke-width='0.8'/>
<text x='425.53' y='157.60' font-size='4.7' font-weight='bold' text-anchor='middle' fill='#000' stroke='#000' stroke-width='0.15'>14</text>
<line x1='439.84' y1='151.50' x2='439.84' y2='153.30' stroke='#000' stroke-width='0.8'/>
<text x='439.84' y='157.60' font-size='4.7' font-weight='bold' text-anchor='middle' fill='#000' stroke='#000' stroke-width='0.15'>21</text>
<line x1='454.16' y1='151.50' x2='454.16' y2='153.30' stroke='#000' stroke-width='0.8'/>
<text x='454.16' y='157.60' font-size='4.7' font-weight='bold' text-anchor='middle' fill='#000' stroke='#000' stroke-width='0.15'>28</text>
<line x1='468.47' y1='151.50' x2='468.47' y2='153.30' stroke='#000' stroke-width='0.8'/>
<text x='468.47' y='157.60' font-size='4.7' font-weight='bold' text-anchor='middle' fill='#000' stroke='#000' stroke-width='0.15'>35</text>
<line x1='482.79' y1='151.50' x2='482.79' y2='153.30' stroke='#000' stroke-width='0.8'/>
<text x='482.79' y='157.60' font-size='4.7' font-weight='bold' text-anchor='middle' fill='#000' stroke='#000' stroke-width='0.15'>42</text>
<line x1='497.10' y1='151.50' x2='497.10' y2='153.30' stroke='#000' stroke-width='0.8'/>
<text x='497.10' y='157.60' font-size='4.7' font-weight='bold' text-anchor='middle' fill='#000' stroke='#000' stroke-width='0.15'>49</text>
<line x1='511.42' y1='151.50' x2='511.42' y2='153.30' stroke='#000' stroke-width='0.8'/>
<text x='511.42' y='157.60' font-size='4.7' font-weight='bold' text-anchor='middle' fill='#000' stroke='#000' stroke-width='0.15'>56</text>
<text x='379.60' y='109.60' font-size='4.75' font-weight='bold' text-anchor='middle' fill='#000' stroke='#000' stroke-width='0.14' transform='rotate(-90 379.6 109.6)' textLength='57.8'>% change of initial weight</text>
<text x='454.10' y='164.60' font-size='4.6' font-weight='bold' text-anchor='middle' fill='#000' stroke='#000' stroke-width='0.14' textLength='30.5'>Days after DLI</text>
<path d='M396.90,109.70 L411.21,108.40 L425.53,113.60 L439.84,107.80 L454.16,107.80 L482.79,102.60 L511.42,101.00' stroke='#000' stroke-width='1.0' fill='none'/>
<path d='M396.90,109.70 L411.21,107.00 L425.53,110.40 L439.84,103.70 L454.16,102.60 L482.79,95.40 L511.42,95.90' stroke='#000' stroke-width='0.8' fill='none'/>
<path d='M396.90,109.70 L411.21,107.00 L425.53,109.00 L439.84,105.80 L454.16,105.20 L482.79,96.70 L511.42,91.50' stroke='#000' stroke-width='0.8' fill='none' stroke-dasharray='1.4,1.0'/>
<path d='M396.90,109.70 L411.21,114.40 L425.53,126.30 L439.84,119.00 L454.16,116.20 L468.47,116.70 L482.79,111.50 L497.10,111.50 L511.42,109.40' stroke='#000' stroke-width='1.0' fill='none'/>
<circle cx='396.90' cy='109.70' r='1.2' fill='#000'/>
<circle cx='411.21' cy='108.40' r='1.2' fill='#000'/>
<circle cx='425.53' cy='113.60' r='1.2' fill='#000'/>
<circle cx='439.84' cy='107.80' r='1.2' fill='#000'/>
<circle cx='454.16' cy='107.80' r='1.2' fill='#000'/>
<circle cx='482.79' cy='102.60' r='1.2' fill='#000'/>
<circle cx='511.42' cy='101.00' r='1.2' fill='#000'/>
<rect x='395.70' y='108.50' width='2.4' height='2.4' fill='#fff' stroke='#000' stroke-width='0.8'/>
<rect x='410.01' y='105.80' width='2.4' height='2.4' fill='#fff' stroke='#000' stroke-width='0.8'/>
<rect x='424.33' y='109.20' width='2.4' height='2.4' fill='#fff' stroke='#000' stroke-width='0.8'/>
<rect x='438.64' y='102.50' width='2.4' height='2.4' fill='#fff' stroke='#000' stroke-width='0.8'/>
<rect x='452.96' y='101.40' width='2.4' height='2.4' fill='#fff' stroke='#000' stroke-width='0.8'/>
<rect x='481.59' y='94.20' width='2.4' height='2.4' fill='#fff' stroke='#000' stroke-width='0.8'/>
<rect x='510.22' y='94.70' width='2.4' height='2.4' fill='#fff' stroke='#000' stroke-width='0.8'/>
<circle cx='396.90' cy='109.70' r='1.2' fill='#fff' stroke='#000' stroke-width='0.8'/>
<circle cx='411.21' cy='107.00' r='1.2' fill='#fff' stroke='#000' stroke-width='0.8'/>
<circle cx='425.53' cy='109.00' r='1.2' fill='#fff' stroke='#000' stroke-width='0.8'/>
<circle cx='439.84' cy='105.80' r='1.2' fill='#fff' stroke='#000' stroke-width='0.8'/>
<circle cx='454.16' cy='105.20' r='1.2' fill='#fff' stroke='#000' stroke-width='0.8'/>
<circle cx='482.79' cy='96.70' r='1.2' fill='#fff' stroke='#000' stroke-width='0.8'/>
<circle cx='511.42' cy='91.50' r='1.2' fill='#fff' stroke='#000' stroke-width='0.8'/>
<rect x='395.70' y='108.50' width='2.4' height='2.4' fill='#000'/>
<rect x='410.01' y='113.20' width='2.4' height='2.4' fill='#000'/>
<rect x='424.33' y='125.10' width='2.4' height='2.4' fill='#000'/>
<rect x='438.64' y='117.80' width='2.4' height='2.4' fill='#000'/>
<rect x='452.96' y='115.00' width='2.4' height='2.4' fill='#000'/>
<rect x='467.27' y='115.50' width='2.4' height='2.4' fill='#000'/>
<rect x='481.59' y='110.30' width='2.4' height='2.4' fill='#000'/>
<rect x='495.90' y='110.30' width='2.4' height='2.4' fill='#000'/>
<rect x='510.22' y='108.20' width='2.4' height='2.4' fill='#000'/>
<line x1='411.21' y1='112.00' x2='411.21' y2='117.00' stroke='#000' stroke-width='0.6'/>
<line x1='410.01' y1='112.00' x2='412.41' y2='112.00' stroke='#000' stroke-width='0.6'/>
<line x1='410.01' y1='117.00' x2='412.41' y2='117.00' stroke='#000' stroke-width='0.6'/>
<line x1='425.53' y1='122.00' x2='425.53' y2='130.00' stroke='#000' stroke-width='0.6'/>
<line x1='424.33' y1='122.00' x2='426.73' y2='122.00' stroke='#000' stroke-width='0.6'/>
<line x1='424.33' y1='130.00' x2='426.73' y2='130.00' stroke='#000' stroke-width='0.6'/>
<line x1='439.84' y1='116.00' x2='439.84' y2='123.00' stroke='#000' stroke-width='0.6'/>
<line x1='438.64' y1='116.00' x2='441.04' y2='116.00' stroke='#000' stroke-width='0.6'/>
<line x1='438.64' y1='123.00' x2='441.04' y2='123.00' stroke='#000' stroke-width='0.6'/>
<line x1='454.16' y1='113.50' x2='454.16' y2='119.00' stroke='#000' stroke-width='0.6'/>
<line x1='452.96' y1='113.50' x2='455.36' y2='113.50' stroke='#000' stroke-width='0.6'/>
<line x1='452.96' y1='119.00' x2='455.36' y2='119.00' stroke='#000' stroke-width='0.6'/>
<line x1='468.47' y1='114.50' x2='468.47' y2='119.00' stroke='#000' stroke-width='0.6'/>
<line x1='467.27' y1='114.50' x2='469.67' y2='114.50' stroke='#000' stroke-width='0.6'/>
<line x1='467.27' y1='119.00' x2='469.67' y2='119.00' stroke='#000' stroke-width='0.6'/>
<line x1='482.79' y1='108.50' x2='482.79' y2='114.50' stroke='#000' stroke-width='0.6'/>
<line x1='481.59' y1='108.50' x2='483.99' y2='108.50' stroke='#000' stroke-width='0.6'/>
<line x1='481.59' y1='114.50' x2='483.99' y2='114.50' stroke='#000' stroke-width='0.6'/>
<line x1='497.10' y1='109.00' x2='497.10' y2='114.00' stroke='#000' stroke-width='0.6'/>
<line x1='495.90' y1='109.00' x2='498.30' y2='109.00' stroke='#000' stroke-width='0.6'/>
<line x1='495.90' y1='114.00' x2='498.30' y2='114.00' stroke='#000' stroke-width='0.6'/>
<line x1='511.42' y1='104.80' x2='511.42' y2='113.20' stroke='#000' stroke-width='0.6'/>
<line x1='510.22' y1='104.80' x2='512.62' y2='104.80' stroke='#000' stroke-width='0.6'/>
<line x1='510.22' y1='113.20' x2='512.62' y2='113.20' stroke='#000' stroke-width='0.6'/>
<line x1='511.42' y1='89.00' x2='511.42' y2='97.00' stroke='#000' stroke-width='0.6'/>
<line x1='510.22' y1='89.00' x2='512.62' y2='89.00' stroke='#000' stroke-width='0.6'/>
<line x1='510.22' y1='97.00' x2='512.62' y2='97.00' stroke='#000' stroke-width='0.6'/>
<line x1='482.79' y1='93.00' x2='482.79' y2='98.00' stroke='#000' stroke-width='0.6'/>
<line x1='481.59' y1='93.00' x2='483.99' y2='93.00' stroke='#000' stroke-width='0.6'/>
<line x1='481.59' y1='98.00' x2='483.99' y2='98.00' stroke='#000' stroke-width='0.6'/>
<text x='425.53' y='133.40' font-size='4.2' font-weight='bold' text-anchor='middle' fill='#000' stroke='#000' stroke-width='0.15'>*</text>
<text x='439.84' y='128.80' font-size='4.2' font-weight='bold' text-anchor='middle' fill='#000' stroke='#000' stroke-width='0.15'>*</text>
<text x='454.16' y='125.00' font-size='4.2' font-weight='bold' text-anchor='middle' fill='#000' stroke='#000' stroke-width='0.15'>*</text>
<text x='482.79' y='120.60' font-size='4.2' font-weight='bold' text-anchor='middle' fill='#000' stroke='#000' stroke-width='0.15'>*</text>
<line x1='393.00' y1='71.00' x2='402.00' y2='71.00' stroke='#000' stroke-width='0.8'/>
<circle cx='397.50' cy='71.00' r='1.3' fill='#000'/>
<text x='403.00' y='72.80' font-size='4.4' font-weight='bold' text-anchor='start' fill='#000' stroke='#000' stroke-width='0.15' textLength='19.2' lengthAdjust='spacingAndGlyphs'>Full + DLI</text>
<line x1='393.00' y1='76.50' x2='402.00' y2='76.50' stroke='#000' stroke-width='0.8'/>
<rect x='396.20' y='75.20' width='2.6' height='2.6' fill='#fff' stroke='#000' stroke-width='0.8'/>
<text x='403.00' y='78.30' font-size='4.4' font-weight='bold' text-anchor='start' fill='#000' stroke='#000' stroke-width='0.15' textLength='41.0' lengthAdjust='spacingAndGlyphs'>Full + DLI + &#945;CD25</text>
<line x1='393.00' y1='82.00' x2='402.00' y2='82.00' stroke='#000' stroke-width='0.8' stroke-dasharray='1.2,0.8'/>
<circle cx='397.50' cy='82.00' r='1.3' fill='#fff' stroke='#000' stroke-width='0.8'/>
<text x='403.00' y='83.80' font-size='4.4' font-weight='bold' text-anchor='start' fill='#000' stroke='#000' stroke-width='0.15' textLength='62.0' lengthAdjust='spacingAndGlyphs'>Full + DLI + &#945;CD25 + imiquimod</text>
<line x1='393.00' y1='87.90' x2='402.00' y2='87.90' stroke='#000' stroke-width='0.8'/>
<rect x='396.20' y='86.60' width='2.6' height='2.6' fill='#000'/>
<text x='403.00' y='89.70' font-size='4.4' font-weight='bold' text-anchor='start' fill='#000' stroke='#000' stroke-width='0.15' textLength='57.3' lengthAdjust='spacingAndGlyphs'>Full + DLI + CpG + Imiquimod</text>
<line x1='133.00' y1='246.80' x2='133.00' y2='332.60' stroke='#000' stroke-width='1.3'/>
<line x1='132.40' y1='332.00' x2='262.20' y2='332.00' stroke='#000' stroke-width='1.3'/>
<line x1='131.20' y1='332.00' x2='133.00' y2='332.00' stroke='#000' stroke-width='0.8'/>
<text x='130.50' y='333.65' font-size='4.7' font-weight='bold' text-anchor='end' fill='#000' stroke='#000' stroke-width='0.15'>0</text>
<line x1='131.20' y1='315.00' x2='133.00' y2='315.00' stroke='#000' stroke-width='0.8'/>
<text x='130.50' y='316.65' font-size='4.7' font-weight='bold' text-anchor='end' fill='#000' stroke='#000' stroke-width='0.15'>20</text>
<line x1='131.20' y1='298.00' x2='133.00' y2='298.00' stroke='#000' stroke-width='0.8'/>
<text x='130.50' y='299.65' font-size='4.7' font-weight='bold' text-anchor='end' fill='#000' stroke='#000' stroke-width='0.15'>40</text>
<line x1='131.20' y1='281.00' x2='133.00' y2='281.00' stroke='#000' stroke-width='0.8'/>
<text x='130.50' y='282.65' font-size='4.7' font-weight='bold' text-anchor='end' fill='#000' stroke='#000' stroke-width='0.15'>60</text>
<line x1='131.20' y1='264.00' x2='133.00' y2='264.00' stroke='#000' stroke-width='0.8'/>
<text x='130.50' y='265.65' font-size='4.7' font-weight='bold' text-anchor='end' fill='#000' stroke='#000' stroke-width='0.15'>80</text>
<line x1='131.20' y1='247.00' x2='133.00' y2='247.00' stroke='#000' stroke-width='0.8'/>
<text x='130.50' y='248.65' font-size='4.7' font-weight='bold' text-anchor='end' fill='#000' stroke='#000' stroke-width='0.15'>100</text>
<line x1='149.00' y1='332.00' x2='149.00' y2='333.80' stroke='#000' stroke-width='0.8'/>
<text x='149.00' y='338.40' font-size='4.7' font-weight='bold' text-anchor='middle' fill='#000' stroke='#000' stroke-width='0.15'>20</text>
<line x1='177.30' y1='332.00' x2='177.30' y2='333.80' stroke='#000' stroke-width='0.8'/>
<text x='177.30' y='338.40' font-size='4.7' font-weight='bold' text-anchor='middle' fill='#000' stroke='#000' stroke-width='0.15'>30</text>
<line x1='205.60' y1='332.00' x2='205.60' y2='333.80' stroke='#000' stroke-width='0.8'/>
<text x='205.60' y='338.40' font-size='4.7' font-weight='bold' text-anchor='middle' fill='#000' stroke='#000' stroke-width='0.15'>40</text>
<line x1='233.90' y1='332.00' x2='233.90' y2='333.80' stroke='#000' stroke-width='0.8'/>
<text x='233.90' y='338.40' font-size='4.7' font-weight='bold' text-anchor='middle' fill='#000' stroke='#000' stroke-width='0.15'>50</text>
<line x1='262.20' y1='332.00' x2='262.20' y2='333.80' stroke='#000' stroke-width='0.8'/>
<text x='262.20' y='338.40' font-size='4.7' font-weight='bold' text-anchor='middle' fill='#000' stroke='#000' stroke-width='0.15'>60</text>
<text x='121.00' y='287.20' font-size='5.3' font-weight='bold' text-anchor='middle' fill='#000' stroke='#000' stroke-width='0.15' transform='rotate(-90 121.0 287.2)'>% donor CD4<tspan font-size="3" dy="-1.5">+</tspan><tspan dy="1.5"> chimerism</tspan></text>
<text x='197.40' y='346.60' font-size='5.2' font-weight='bold' text-anchor='middle' fill='#000' stroke='#000' stroke-width='0.14' textLength='36.3'>Days after DLI</text>
<path d='M151.00,255.80 L188.00,257.50 L207.50,255.00 L242.50,255.00' stroke='#000' stroke-width='0.8' fill='none' stroke-dasharray='1.6,1.1'/>
<path d='M151.00,267.00 L188.00,268.00 L207.50,265.00 L242.50,262.00' stroke='#000' stroke-width='1.0' fill='none'/>
<path d='M151.00,272.40 L188.00,274.70 L207.50,270.50 L242.50,267.80' stroke='#000' stroke-width='0.8' fill='none'/>
<path d='M151.00,275.20 L188.00,280.00 L207.50,272.80 L242.50,270.10' stroke='#000' stroke-width='1.0' fill='none'/>
<path d='M151.00,278.60 L188.00,282.50 L207.50,276.30 L242.50,274.30' stroke='#000' stroke-width='0.5' fill='none'/>
<line x1='151.00' y1='262.00' x2='151.00' y2='282.00' stroke='#000' stroke-width='0.7'/>
<line x1='149.50' y1='262.00' x2='152.50' y2='262.00' stroke='#000' stroke-width='0.7'/>
<line x1='149.50' y1='282.00' x2='152.50' y2='282.00' stroke='#000' stroke-width='0.7'/>
<line x1='188.00' y1='262.00' x2='188.00' y2='287.00' stroke='#000' stroke-width='0.7'/>
<line x1='186.50' y1='262.00' x2='189.50' y2='262.00' stroke='#000' stroke-width='0.7'/>
<line x1='186.50' y1='287.00' x2='189.50' y2='287.00' stroke='#000' stroke-width='0.7'/>
<line x1='207.50' y1='264.00' x2='207.50' y2='278.00' stroke='#000' stroke-width='0.7'/>
<line x1='206.00' y1='264.00' x2='209.00' y2='264.00' stroke='#000' stroke-width='0.7'/>
<line x1='206.00' y1='278.00' x2='209.00' y2='278.00' stroke='#000' stroke-width='0.7'/>
<line x1='242.50' y1='258.00' x2='242.50' y2='277.00' stroke='#000' stroke-width='0.7'/>
<line x1='241.00' y1='258.00' x2='244.00' y2='258.00' stroke='#000' stroke-width='0.7'/>
<line x1='241.00' y1='277.00' x2='244.00' y2='277.00' stroke='#000' stroke-width='0.7'/>
<path d='M149.68,254.70000000000002 L152.32,254.70000000000002 L151,257.12 Z' fill='#fff' stroke='#000' stroke-width='0.8'/>
<path d='M186.68,256.4 L189.32,256.4 L188,258.82 Z' fill='#fff' stroke='#000' stroke-width='0.8'/>
<path d='M206.18,253.9 L208.82,253.9 L207.5,256.32 Z' fill='#fff' stroke='#000' stroke-width='0.8'/>
<path d='M241.18,253.9 L243.82,253.9 L242.5,256.32 Z' fill='#fff' stroke='#000' stroke-width='0.8'/>
<circle cx='151.00' cy='267.00' r='1.1' fill='#000'/>
<circle cx='188.00' cy='268.00' r='1.1' fill='#000'/>
<circle cx='207.50' cy='265.00' r='1.1' fill='#000'/>
<circle cx='242.50' cy='262.00' r='1.1' fill='#000'/>
<rect x='149.90' y='271.30' width='2.2' height='2.2' fill='#fff' stroke='#000' stroke-width='0.8'/>
<rect x='186.90' y='273.60' width='2.2' height='2.2' fill='#fff' stroke='#000' stroke-width='0.8'/>
<rect x='206.40' y='269.40' width='2.2' height='2.2' fill='#fff' stroke='#000' stroke-width='0.8'/>
<rect x='241.40' y='266.70' width='2.2' height='2.2' fill='#fff' stroke='#000' stroke-width='0.8'/>
<path d='M151,273.88 L152.21,275.2 L151,276.52 L149.79,275.2 Z' fill='#000'/>
<path d='M188,278.68 L189.21,280.0 L188,281.32 L186.79,280.0 Z' fill='#000'/>
<path d='M207.5,271.48 L208.71,272.8 L207.5,274.12 L206.29,272.8 Z' fill='#000'/>
<path d='M242.5,268.78000000000003 L243.71,270.1 L242.5,271.42 L241.29,270.1 Z' fill='#000'/>
<circle cx='151.00' cy='278.60' r='1.1' fill='#fff' stroke='#000' stroke-width='0.8'/>
<circle cx='188.00' cy='282.50' r='1.1' fill='#fff' stroke='#000' stroke-width='0.8'/>
<circle cx='207.50' cy='276.30' r='1.1' fill='#fff' stroke='#000' stroke-width='0.8'/>
<circle cx='242.50' cy='274.30' r='1.1' fill='#fff' stroke='#000' stroke-width='0.8'/>
<line x1='137.50' y1='304.00' x2='146.00' y2='304.00' stroke='#000' stroke-width='0.8'/>
<path d='M140.19,302.7 L143.31,302.7 L141.75,305.56 Z' fill='#000'/>
<text x='147.60' y='305.80' font-size='4.4' font-weight='bold' text-anchor='start' fill='#000' stroke='#000' stroke-width='0.15'>Mixed</text>
<line x1='137.50' y1='309.20' x2='146.00' y2='309.20' stroke='#000' stroke-width='0.8'/>
<circle cx='141.75' cy='309.20' r='1.3' fill='#fff' stroke='#000' stroke-width='0.8'/>
<text x='147.60' y='311.00' font-size='4.4' font-weight='bold' text-anchor='start' fill='#000' stroke='#000' stroke-width='0.15'>Mixed + DLI</text>
<line x1='137.50' y1='314.60' x2='146.00' y2='314.60' stroke='#000' stroke-width='0.8' stroke-dasharray='1.2,0.8'/>
<rect x='140.45' y='313.30' width='2.6' height='2.6' fill='#fff' stroke='#000' stroke-width='0.8'/>
<text x='147.60' y='316.40' font-size='4.4' font-weight='bold' text-anchor='start' fill='#000' stroke='#000' stroke-width='0.15'>Mixed + DLI + &#945;CD25</text>
<line x1='137.50' y1='320.20' x2='146.00' y2='320.20' stroke='#000' stroke-width='0.8'/>
<path d='M141.75,318.64 L143.18,320.2 L141.75,321.76 L140.32,320.2 Z' fill='#000'/>
<text x='147.60' y='322.00' font-size='4.4' font-weight='bold' text-anchor='start' fill='#000' stroke='#000' stroke-width='0.15'>Mixed + DLI + &#945;Thy1.2</text>
<line x1='137.50' y1='325.80' x2='146.00' y2='325.80' stroke='#000' stroke-width='0.8'/>
<path d='M140.19,324.5 L143.31,324.5 L141.75,327.36 Z' fill='#fff' stroke='#000' stroke-width='0.8'/>
<text x='147.60' y='327.60' font-size='4.4' font-weight='bold' text-anchor='start' fill='#000' stroke='#000' stroke-width='0.15'>Mixed + DLI + &#945;Thy1.2 + CpG</text>
<line x1='296.00' y1='246.80' x2='296.00' y2='332.35' stroke='#000' stroke-width='1.3'/>
<line x1='295.40' y1='331.75' x2='425.60' y2='331.75' stroke='#000' stroke-width='1.3'/>
<line x1='294.20' y1='331.75' x2='296.00' y2='331.75' stroke='#000' stroke-width='0.8'/>
<text x='293.50' y='333.40' font-size='4.7' font-weight='bold' text-anchor='end' fill='#000' stroke='#000' stroke-width='0.15'>0</text>
<line x1='294.20' y1='314.81' x2='296.00' y2='314.81' stroke='#000' stroke-width='0.8'/>
<text x='293.50' y='316.46' font-size='4.7' font-weight='bold' text-anchor='end' fill='#000' stroke='#000' stroke-width='0.15'>20</text>
<line x1='294.20' y1='297.87' x2='296.00' y2='297.87' stroke='#000' stroke-width='0.8'/>
<text x='293.50' y='299.52' font-size='4.7' font-weight='bold' text-anchor='end' fill='#000' stroke='#000' stroke-width='0.15'>40</text>
<line x1='294.20' y1='280.93' x2='296.00' y2='280.93' stroke='#000' stroke-width='0.8'/>
<text x='293.50' y='282.58' font-size='4.7' font-weight='bold' text-anchor='end' fill='#000' stroke='#000' stroke-width='0.15'>60</text>
<line x1='294.20' y1='263.99' x2='296.00' y2='263.99' stroke='#000' stroke-width='0.8'/>
<text x='293.50' y='265.64' font-size='4.7' font-weight='bold' text-anchor='end' fill='#000' stroke='#000' stroke-width='0.15'>80</text>
<line x1='294.20' y1='247.05' x2='296.00' y2='247.05' stroke='#000' stroke-width='0.8'/>
<text x='293.50' y='248.70' font-size='4.7' font-weight='bold' text-anchor='end' fill='#000' stroke='#000' stroke-width='0.15'>100</text>
<line x1='310.50' y1='331.75' x2='310.50' y2='333.55' stroke='#000' stroke-width='0.8'/>
<text x='310.50' y='338.20' font-size='4.7' font-weight='bold' text-anchor='middle' fill='#000' stroke='#000' stroke-width='0.15'>20</text>
<line x1='339.10' y1='331.75' x2='339.10' y2='333.55' stroke='#000' stroke-width='0.8'/>
<text x='339.10' y='338.20' font-size='4.7' font-weight='bold' text-anchor='middle' fill='#000' stroke='#000' stroke-width='0.15'>30</text>
<line x1='367.70' y1='331.75' x2='367.70' y2='333.55' stroke='#000' stroke-width='0.8'/>
<text x='367.70' y='338.20' font-size='4.7' font-weight='bold' text-anchor='middle' fill='#000' stroke='#000' stroke-width='0.15'>40</text>
<line x1='396.30' y1='331.75' x2='396.30' y2='333.55' stroke='#000' stroke-width='0.8'/>
<text x='396.30' y='338.20' font-size='4.7' font-weight='bold' text-anchor='middle' fill='#000' stroke='#000' stroke-width='0.15'>50</text>
<line x1='424.90' y1='331.75' x2='424.90' y2='333.55' stroke='#000' stroke-width='0.8'/>
<text x='424.90' y='338.20' font-size='4.7' font-weight='bold' text-anchor='middle' fill='#000' stroke='#000' stroke-width='0.15'>60</text>
<text x='282.00' y='288.40' font-size='5.25' font-weight='bold' text-anchor='middle' fill='#000' stroke='#000' stroke-width='0.14' transform='rotate(-90 282.0 288.4)' textLength='79.9'>% donor granulocyte chimerism</text>
<text x='361.30' y='346.10' font-size='5.2' font-weight='bold' text-anchor='middle' fill='#000' stroke='#000' stroke-width='0.14' textLength='36.9'>Days after DLI</text>
<path d='M314.25,260.50 L350.75,262.50 L370.50,265.00 L405.00,265.00' stroke='#000' stroke-width='0.8' fill='none' stroke-dasharray='1.6,1.1'/>
<path d='M314.25,279.50 L350.75,277.00 L370.50,281.50 L405.00,280.00' stroke='#000' stroke-width='0.5' fill='none'/>
<path d='M314.25,283.70 L350.75,283.00 L370.50,275.00 L405.00,283.00' stroke='#000' stroke-width='1.0' fill='none'/>
<path d='M314.25,287.50 L350.75,287.00 L370.50,281.00 L405.00,282.00' stroke='#000' stroke-width='1.0' fill='none'/>
<path d='M314.25,296.30 L350.75,295.50 L405.00,290.00' stroke='#000' stroke-width='0.5' fill='none'/>
<line x1='314.25' y1='277.00' x2='314.25' y2='290.00' stroke='#000' stroke-width='0.7'/>
<line x1='312.75' y1='277.00' x2='315.75' y2='277.00' stroke='#000' stroke-width='0.7'/>
<line x1='312.75' y1='290.00' x2='315.75' y2='290.00' stroke='#000' stroke-width='0.7'/>
<line x1='350.75' y1='274.00' x2='350.75' y2='299.00' stroke='#000' stroke-width='0.7'/>
<line x1='349.25' y1='274.00' x2='352.25' y2='274.00' stroke='#000' stroke-width='0.7'/>
<line x1='349.25' y1='299.00' x2='352.25' y2='299.00' stroke='#000' stroke-width='0.7'/>
<line x1='370.50' y1='278.00' x2='370.50' y2='284.00' stroke='#000' stroke-width='0.7'/>
<line x1='369.00' y1='278.00' x2='372.00' y2='278.00' stroke='#000' stroke-width='0.7'/>
<line x1='369.00' y1='284.00' x2='372.00' y2='284.00' stroke='#000' stroke-width='0.7'/>
<line x1='405.00' y1='277.00' x2='405.00' y2='287.00' stroke='#000' stroke-width='0.7'/>
<line x1='403.50' y1='277.00' x2='406.50' y2='277.00' stroke='#000' stroke-width='0.7'/>
<line x1='403.50' y1='287.00' x2='406.50' y2='287.00' stroke='#000' stroke-width='0.7'/>
<line x1='405.00' y1='262.00' x2='405.00' y2='268.00' stroke='#000' stroke-width='0.7'/>
<line x1='403.50' y1='262.00' x2='406.50' y2='262.00' stroke='#000' stroke-width='0.7'/>
<line x1='403.50' y1='268.00' x2='406.50' y2='268.00' stroke='#000' stroke-width='0.7'/>
<rect x='312.95' y='259.20' width='2.6' height='2.6' fill='#fff' stroke='#000' stroke-width='0.8'/>
<rect x='349.45' y='261.20' width='2.6' height='2.6' fill='#fff' stroke='#000' stroke-width='0.8'/>
<rect x='369.20' y='263.70' width='2.6' height='2.6' fill='#fff' stroke='#000' stroke-width='0.8'/>
<rect x='403.70' y='263.70' width='2.6' height='2.6' fill='#fff' stroke='#000' stroke-width='0.8'/>
<path d='M312.69,278.2 L315.81,278.2 L314.25,281.06 Z' fill='#fff' stroke='#000' stroke-width='0.8'/>
<path d='M349.19,275.7 L352.31,275.7 L350.75,278.56 Z' fill='#fff' stroke='#000' stroke-width='0.8'/>
<path d='M368.94,280.2 L372.06,280.2 L370.5,283.06 Z' fill='#fff' stroke='#000' stroke-width='0.8'/>
<path d='M403.44,278.7 L406.56,278.7 L405,281.56 Z' fill='#fff' stroke='#000' stroke-width='0.8'/>
<path d='M314.25,282.14 L315.68,283.7 L314.25,285.26 L312.82,283.7 Z' fill='#000'/>
<path d='M350.75,281.44 L352.18,283.0 L350.75,284.56 L349.32,283.0 Z' fill='#000'/>
<path d='M370.5,273.44 L371.93,275.0 L370.5,276.56 L369.07,275.0 Z' fill='#000'/>
<path d='M405,281.44 L406.43,283.0 L405,284.56 L403.57,283.0 Z' fill='#000'/>
<path d='M312.69,286.2 L315.81,286.2 L314.25,289.06 Z' fill='#000'/>
<path d='M349.19,285.7 L352.31,285.7 L350.75,288.56 Z' fill='#000'/>
<path d='M368.94,279.7 L372.06,279.7 L370.5,282.56 Z' fill='#000'/>
<path d='M403.44,280.7 L406.56,280.7 L405,283.56 Z' fill='#000'/>
<circle cx='314.25' cy='296.30' r='1.3' fill='#fff' stroke='#000' stroke-width='0.8'/>
<circle cx='350.75' cy='295.50' r='1.3' fill='#fff' stroke='#000' stroke-width='0.8'/>
<circle cx='405.00' cy='290.00' r='1.3' fill='#fff' stroke='#000' stroke-width='0.8'/>
<text x='314.25' y='255.90' font-size='5.6' font-weight='bold' text-anchor='middle' fill='#000' stroke='#000' stroke-width='0.15'>*</text>
<text x='350.75' y='258.20' font-size='5.6' font-weight='bold' text-anchor='middle' fill='#000' stroke='#000' stroke-width='0.15'>*</text>
<text x='370.50' y='260.50' font-size='5.6' font-weight='bold' text-anchor='middle' fill='#000' stroke='#000' stroke-width='0.15'>*</text>
<text x='405.00' y='260.00' font-size='5.6' font-weight='bold' text-anchor='middle' fill='#000' stroke='#000' stroke-width='0.15'>*</text>
<line x1='301.00' y1='303.60' x2='309.00' y2='303.60' stroke='#000' stroke-width='0.8'/>
<path d='M303.44,302.3 L306.56,302.3 L305.0,305.16 Z' fill='#000'/>
<text x='310.50' y='305.40' font-size='4.4' font-weight='bold' text-anchor='start' fill='#000' stroke='#000' stroke-width='0.15'>Mixed</text>
<line x1='301.00' y1='308.80' x2='309.00' y2='308.80' stroke='#000' stroke-width='0.8'/>
<circle cx='305.00' cy='308.80' r='1.3' fill='#fff' stroke='#000' stroke-width='0.8'/>
<text x='310.50' y='310.60' font-size='4.4' font-weight='bold' text-anchor='start' fill='#000' stroke='#000' stroke-width='0.15'>Mixed + DLI</text>
<line x1='301.00' y1='314.30' x2='309.00' y2='314.30' stroke='#000' stroke-width='0.8' stroke-dasharray='1.2,0.8'/>
<rect x='303.70' y='313.00' width='2.6' height='2.6' fill='#fff' stroke='#000' stroke-width='0.8'/>
<text x='310.50' y='316.10' font-size='4.4' font-weight='bold' text-anchor='start' fill='#000' stroke='#000' stroke-width='0.15'>Mixed + DLI + &#945;CD25</text>
<line x1='301.00' y1='320.20' x2='309.00' y2='320.20' stroke='#000' stroke-width='0.8'/>
<path d='M305.0,318.64 L306.43,320.2 L305.0,321.76 L303.57,320.2 Z' fill='#000'/>
<text x='310.50' y='322.00' font-size='4.4' font-weight='bold' text-anchor='start' fill='#000' stroke='#000' stroke-width='0.15'>Mixed + DLI + &#945;Thy1.2</text>
<line x1='301.00' y1='325.90' x2='309.00' y2='325.90' stroke='#000' stroke-width='0.8'/>
<path d='M303.44,324.59999999999997 L306.56,324.59999999999997 L305.0,327.46 Z' fill='#fff' stroke='#000' stroke-width='0.8'/>
<text x='310.50' y='327.70' font-size='4.4' font-weight='bold' text-anchor='start' fill='#000' stroke='#000' stroke-width='0.15'>Mixed + DLI + &#945;Thy1.2 + CpG</text>
</svg></body></html>
